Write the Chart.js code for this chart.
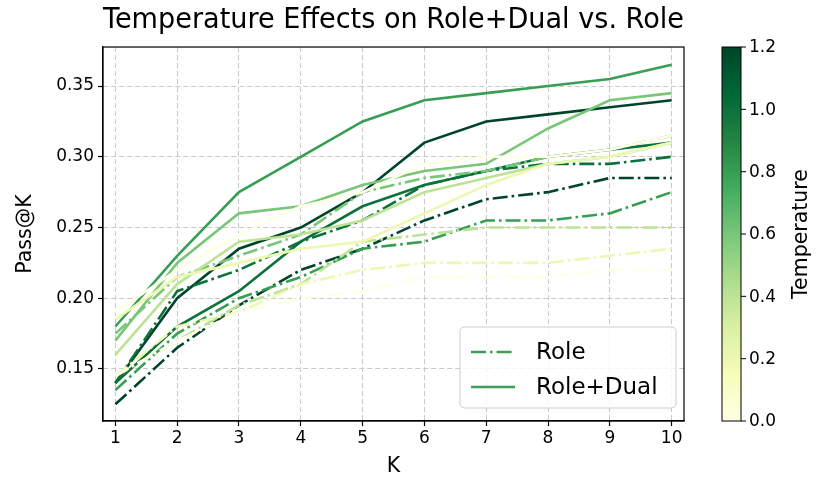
<!DOCTYPE html>
<html><head><meta charset="utf-8">
<script src="https://cdn.jsdelivr.net/npm/chart.js@4"></script>
<style>html,body{margin:0;padding:0;background:#fff;}canvas{display:block;}</style>
</head><body>
<canvas id="c" width="830" height="500" style="width:830px;height:500px"></canvas>
<script>
// ---------- data ----------
const kValues = [1, 2, 3, 4, 5, 6, 7, 8, 9, 10];
const temperatures = [0.0, 0.2, 0.4, 0.6, 0.8, 1.0, 1.2];

// Role+Dual (solid)
const dual_T00 = [0.19, 0.22, 0.245, 0.265, 0.275, 0.295, 0.30, 0.30, 0.305, 0.315];
const dual_T02 = [0.185, 0.215, 0.225, 0.235, 0.24, 0.26, 0.28, 0.295, 0.30, 0.31];
const dual_T04 = [0.16, 0.21, 0.24, 0.245, 0.255, 0.275, 0.285, 0.295, 0.30, 0.31];
const dual_T06 = [0.17, 0.225, 0.26, 0.265, 0.28, 0.29, 0.295, 0.32, 0.34, 0.345];
const dual_T08 = [0.18, 0.23, 0.275, 0.30, 0.325, 0.34, 0.345, 0.35, 0.355, 0.365];
const dual_T10 = [0.14, 0.18, 0.205, 0.24, 0.265, 0.28, 0.29, 0.30, 0.305, 0.31];
const dual_T12 = [0.14, 0.20, 0.235, 0.25, 0.275, 0.31, 0.325, 0.33, 0.335, 0.34];

// Role (dash-dot)
const role_T00 = [0.145, 0.17, 0.19, 0.20, 0.205, 0.215, 0.215, 0.215, 0.22, 0.22];
const role_T02 = [0.145, 0.18, 0.19, 0.21, 0.22, 0.225, 0.225, 0.225, 0.23, 0.235];
const role_T04 = [0.145, 0.17, 0.195, 0.21, 0.24, 0.245, 0.25, 0.25, 0.25, 0.25];
const role_T06 = [0.175, 0.215, 0.23, 0.245, 0.275, 0.285, 0.29, 0.30, 0.305, 0.315];
const role_T08 = [0.135, 0.175, 0.20, 0.215, 0.235, 0.24, 0.255, 0.255, 0.26, 0.275];
const role_T10 = [0.14, 0.205, 0.22, 0.24, 0.255, 0.28, 0.29, 0.295, 0.295, 0.30];
const role_T12 = [0.125, 0.165, 0.195, 0.22, 0.235, 0.255, 0.27, 0.275, 0.285, 0.285];

const xTickValues = [1, 2, 3, 4, 5, 6, 7, 8, 9, 10];
const yTickValues = [0.15, 0.20, 0.25, 0.30, 0.35];
const yTickLabels = ['0.15', '0.20', '0.25', '0.30', '0.35'];
const cbTickValues = [0.0, 0.2, 0.4, 0.6, 0.8, 1.0, 1.2];
const cbTickLabels = ['0.0', '0.2', '0.4', '0.6', '0.8', '1.0', '1.2'];
const legendLabels = ['Role', 'Role+Dual'];

const dualSeries = [dual_T00, dual_T02, dual_T04, dual_T06, dual_T08, dual_T10, dual_T12];
const roleSeries = [role_T00, role_T02, role_T04, role_T06, role_T08, role_T10, role_T12];

// ---------- style ----------
const FONT = "'DejaVu Sans', sans-serif";
const TICK_PX = 17, LABEL_PX = 20.5, TITLE_PX = 27.6, LEGEND_PX = 23;
const YLGN = ['#ffffe5', '#f7fcb9', '#d9f0a3', '#addd8e', '#78c679', '#41ab5d', '#238443', '#006837', '#004529'];
const TMAX = 1.2;
function hex2rgb(h) { return [1, 3, 5].map(i => parseInt(h.substr(i, 2), 16)); }
function ylgn(f) {
  f = Math.max(0, Math.min(1, f));
  const p = f * (YLGN.length - 1), i = Math.min(Math.floor(p), YLGN.length - 2), t = p - i;
  const a = hex2rgb(YLGN[i]), b = hex2rgb(YLGN[i + 1]);
  return 'rgb(' + a.map((v, j) => Math.round(v + (b[j] - v) * t)).join(',') + ')';
}
const DASHDOT = [15, 4, 2.6, 4];
const LW = 2.6;
const LEGEND_COLOR = '#3d9f57';

const datasets = [];
temperatures.forEach((t, i) => {
  datasets.push({
    label: 'Role T=' + t, data: kValues.map((k, j) => ({x: k, y: roleSeries[i][j]})),
    borderColor: ylgn(t / TMAX), borderWidth: LW, borderDash: DASHDOT,
    pointRadius: 0, fill: false, tension: 0, borderCapStyle: 'butt'
  });
  datasets.push({
    label: 'Role+Dual T=' + t, data: kValues.map((k, j) => ({x: k, y: dualSeries[i][j]})),
    borderColor: ylgn(t / TMAX), borderWidth: LW,
    pointRadius: 0, fill: false, tension: 0
  });
});

const extras = {
  id: 'extras',
  afterDatasetsDraw(chart) {
    const {ctx, chartArea: a} = chart;
    ctx.save();
    ctx.strokeStyle = '#000'; ctx.lineWidth = 1.2; ctx.setLineDash([]);
    ctx.strokeRect(a.left, a.top, a.right - a.left, a.bottom - a.top);
    // legend
    const lx = 460, ly = 327, lw = 216, lh = 81, r = 5;
    ctx.beginPath();
    ctx.moveTo(lx + r, ly); ctx.lineTo(lx + lw - r, ly); ctx.quadraticCurveTo(lx + lw, ly, lx + lw, ly + r);
    ctx.lineTo(lx + lw, ly + lh - r); ctx.quadraticCurveTo(lx + lw, ly + lh, lx + lw - r, ly + lh);
    ctx.lineTo(lx + r, ly + lh); ctx.quadraticCurveTo(lx, ly + lh, lx, ly + lh - r);
    ctx.lineTo(lx, ly + r); ctx.quadraticCurveTo(lx, ly, lx + r, ly); ctx.closePath();
    ctx.fillStyle = 'rgba(255,255,255,0.8)'; ctx.fill();
    ctx.strokeStyle = '#cccccc'; ctx.lineWidth = 1; ctx.stroke();
    const rows = [ly + 25, ly + 60];
    rows.forEach((yy, i) => {
      ctx.beginPath();
      ctx.setLineDash(i === 0 ? DASHDOT : []);
      ctx.strokeStyle = LEGEND_COLOR; ctx.lineWidth = LW;
      ctx.moveTo(lx + 11, yy); ctx.lineTo(lx + 55, yy); ctx.stroke();
      ctx.setLineDash([]);
      ctx.fillStyle = '#000'; ctx.font = LEGEND_PX + 'px ' + FONT;
      ctx.textAlign = 'left'; ctx.textBaseline = 'middle';
      ctx.fillText(legendLabels[i], lx + 76, yy + 1);
    });
    ctx.restore();
  },
  afterDraw(chart) {
    const {ctx, chartArea: a} = chart;
    const bx = 722, bw = 19, top = a.top, bottom = a.bottom;
    ctx.save();
    const g = ctx.createLinearGradient(0, bottom, 0, top);
    YLGN.forEach((c, i) => g.addColorStop(i / (YLGN.length - 1), c));
    ctx.fillStyle = g;
    ctx.fillRect(bx, top, bw, bottom - top);
    ctx.strokeStyle = '#000'; ctx.lineWidth = 1; ctx.setLineDash([]);
    ctx.strokeRect(bx, top, bw, bottom - top);
    ctx.font = TICK_PX + 'px ' + FONT; ctx.fillStyle = '#000';
    ctx.textAlign = 'left'; ctx.textBaseline = 'middle';
    cbTickValues.forEach((v, i) => {
      const y = bottom - v / TMAX * (bottom - top);
      ctx.beginPath(); ctx.moveTo(bx + bw, y); ctx.lineTo(bx + bw + 5, y); ctx.stroke();
      ctx.fillText(cbTickLabels[i], bx + bw + 8, y + 1);
    });
    ctx.translate(802, (top + bottom) / 2);
    ctx.rotate(-Math.PI / 2);
    ctx.textAlign = 'center'; ctx.font = LABEL_PX + 'px ' + FONT;
    ctx.fillText('Temperature', 0, 0);
    ctx.restore();
  }
};

const gridCommon = {
  color: '#c8c8c8', lineWidth: 1, drawOnChartArea: true, drawTicks: true,
  tickColor: '#000', tickLength: 5, tickWidth: 1.2, tickBorderDash: []
};

new Chart(document.getElementById('c'), {
  type: 'line',
  data: {datasets},
  options: {
    responsive: false, animation: false, devicePixelRatio: 1,
    layout: {padding: {left: 0, right: 146, top: 0, bottom: 0}},
    plugins: {
      legend: {display: false}, tooltip: {enabled: false},
      title: {display: true, text: 'Temperature Effects on Role+Dual vs. Role', fullSize: false,
        color: '#000', font: {family: FONT, size: TITLE_PX, weight: 'normal', lineHeight: 1.2}, padding: {top: 4, bottom: 9.9}}
    },
    scales: {
      x: {
        type: 'linear', min: 0.8, max: 10.2,
        afterBuildTicks: s => { s.ticks = xTickValues.map(v => ({value: v})); },
        afterFit: s => { s.height = 79; },
        ticks: {color: '#000', font: {family: FONT, size: TICK_PX}, padding: 2, maxRotation: 0, autoSkip: false,
          callback: v => String(v)},
        grid: gridCommon,
        border: {display: true, color: '#000', width: 1.2, dash: [5, 3]},
        title: {display: true, text: 'K', color: '#000', font: {family: FONT, size: LABEL_PX}, padding: {top: 0, bottom: 21}}
      },
      y: {
        type: 'linear', min: 0.1132, max: 0.3776,
        afterBuildTicks: s => { s.ticks = yTickValues.map(v => ({value: v})); },
        afterFit: s => { s.width = 103; },
        ticks: {color: '#000', font: {family: FONT, size: TICK_PX}, padding: 4, autoSkip: false,
          callback: v => yTickLabels[yTickValues.findIndex(t => Math.abs(t - v) < 1e-9)]},
        grid: gridCommon,
        border: {display: true, color: '#000', width: 1.2, dash: [5, 3]},
        title: {display: true, text: 'Pass@K', color: '#000', font: {family: FONT, size: LABEL_PX}, padding: {top: 13, bottom: 0}}
      }
    }
  },
  plugins: [extras]
});
</script>
</body></html>
